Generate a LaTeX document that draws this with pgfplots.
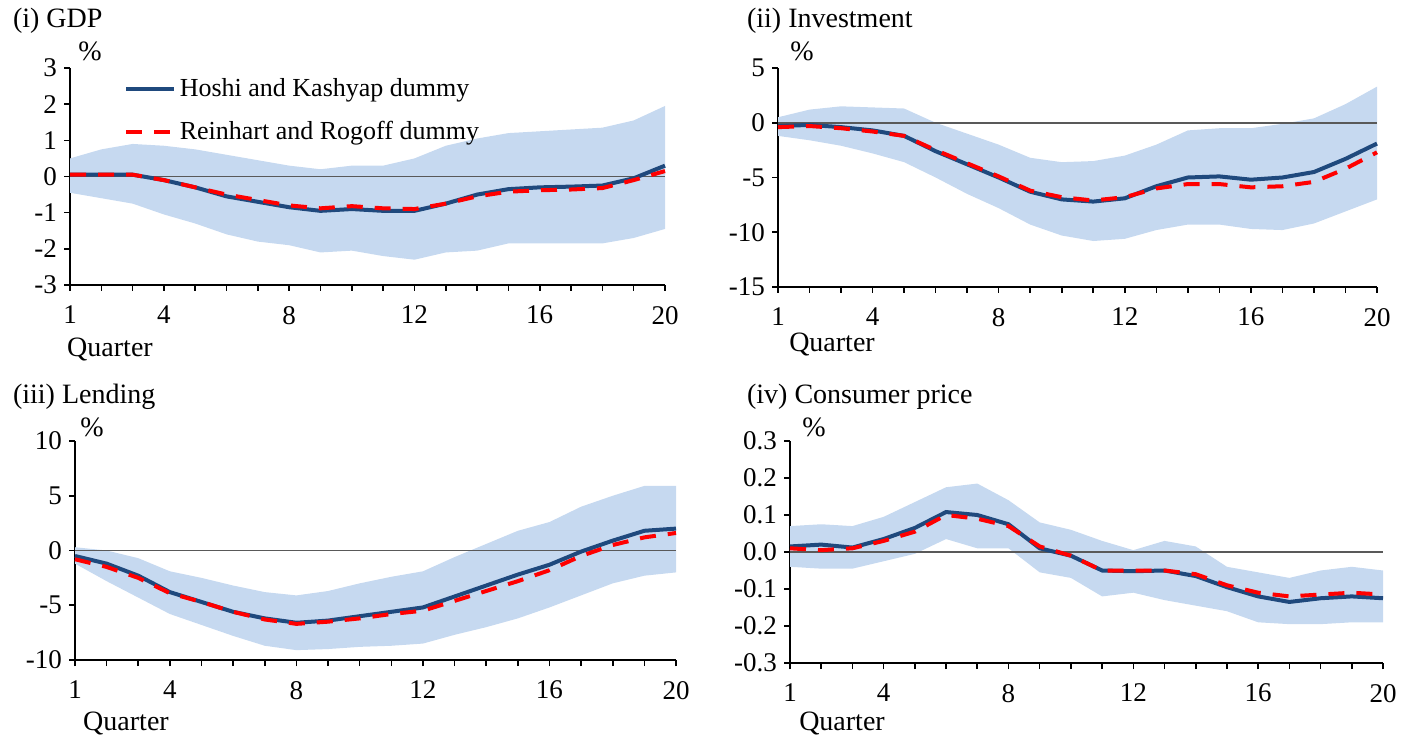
\documentclass[border=0pt]{standalone}
\usepackage{pgfplots}
\pgfplotsset{compat=1.18}
\usepgfplotslibrary{fillbetween}
\usepackage{fontspec}
\setmainfont{Liberation Serif}
\definecolor{band}{RGB}{198,217,240}
\definecolor{hkblue}{RGB}{31,73,125}
\pgfplotsset{
 panel/.style={scale only axis, xmin=1, xmax=20, axis x line*=bottom, axis y line*=left,
  xtick={1,4,8,12,16,20}, minor xtick={1,...,20}, tick align=outside,
  major tick length=3pt, minor tick length=3pt, tick style={black, thick}, axis line style={thick},
  /pgf/number format/assume math mode=true, ticklabel style={font=\fontsize{13.5}{13.5}\selectfont},
  xticklabel style={yshift=-4pt},
  clip=false, anchor=south west},
 hkline/.style={hkblue, line width=2pt, no marks},
 rrline/.style={red, line width=2pt, dash pattern=on 8pt off 6pt, no marks},
 zl/.style={black!65, line width=0.9pt, forget plot},
}
\newcommand{\ttl}[1]{{\fontsize{14}{14}\selectfont #1}}
\begin{document}
\begin{tikzpicture}
\path (0pt,0pt) rectangle (706.5pt,367.5pt);
% (i) GDP
\begin{axis}[panel, at={(35pt,225pt)}, width=297.5pt, height=108.5pt, ymin=-3, ymax=3, ytick={-3,...,3},
  legend style={draw=none, fill=none, at={(0.08,0.99)}, anchor=north west, font=\fontsize{13}{13}\selectfont, row sep=7pt},
  legend image post style={xscale=1.4}, legend cell align=left]
\addplot[name path=u, draw=none, forget plot] coordinates {(1,0.5)(2,0.75)(3,0.9)(4,0.85)(5,0.75)(6,0.6)(7,0.45)(8,0.3)(9,0.2)(10,0.3)(11,0.3)(12,0.5)(13,0.85)(14,1.05)(15,1.2)(16,1.25)(17,1.3)(18,1.35)(19,1.55)(20,1.95)};
\addplot[name path=l, draw=none, forget plot] coordinates {(1,-0.45)(2,-0.6)(3,-0.75)(4,-1.05)(5,-1.3)(6,-1.6)(7,-1.8)(8,-1.9)(9,-2.1)(10,-2.05)(11,-2.2)(12,-2.3)(13,-2.1)(14,-2.05)(15,-1.85)(16,-1.85)(17,-1.85)(18,-1.85)(19,-1.7)(20,-1.45)};
\addplot[band, forget plot] fill between[of=u and l];
\addplot[zl] coordinates {(1,0)(20,0)};
\addplot[hkline] coordinates {(1,0.05)(2,0.05)(3,0.05)(4,-0.1)(5,-0.3)(6,-0.55)(7,-0.7)(8,-0.85)(9,-0.95)(10,-0.9)(11,-0.95)(12,-0.95)(13,-0.75)(14,-0.5)(15,-0.35)(16,-0.3)(17,-0.28)(18,-0.25)(19,-0.05)(20,0.3)};
\addlegendentry{Hoshi and Kashyap dummy}
\addplot[rrline] coordinates {(1,0.05)(2,0.05)(3,0.05)(4,-0.1)(5,-0.3)(6,-0.5)(7,-0.65)(8,-0.8)(9,-0.88)(10,-0.82)(11,-0.88)(12,-0.9)(13,-0.75)(14,-0.55)(15,-0.42)(16,-0.38)(17,-0.36)(18,-0.32)(19,-0.1)(20,0.15)};
\addlegendentry{Reinhart and Rogoff dummy}
\end{axis}
\node[anchor=west] at (3pt,357pt) {\ttl{(i) GDP}};
\node at (45pt,342pt) {\ttl{\%}};
\node at (55pt,193pt) {\ttl{Quarter}};
% (ii) Investment
\begin{axis}[panel, at={(389pt,224pt)}, width=299.5pt, height=109.5pt, ymin=-15, ymax=5, ytick={-15,-10,...,5}]
\addplot[name path=u, draw=none] coordinates {(1,0.5)(2,1.2)(3,1.5)(4,1.4)(5,1.3)(6,0)(7,-1)(8,-2)(9,-3.2)(10,-3.6)(11,-3.5)(12,-3)(13,-2)(14,-0.7)(15,-0.5)(16,-0.5)(17,-0.1)(18,0.4)(19,1.7)(20,3.3)};
\addplot[name path=l, draw=none] coordinates {(1,-1.2)(2,-1.6)(3,-2.1)(4,-2.8)(5,-3.6)(6,-5)(7,-6.5)(8,-7.8)(9,-9.3)(10,-10.3)(11,-10.8)(12,-10.6)(13,-9.8)(14,-9.3)(15,-9.3)(16,-9.7)(17,-9.8)(18,-9.2)(19,-8.1)(20,-7)};
\addplot[band] fill between[of=u and l];
\addplot[zl] coordinates {(1,0)(20,0)};
\addplot[hkline] coordinates {(1,-0.3)(2,-0.2)(3,-0.4)(4,-0.7)(5,-1.2)(6,-2.6)(7,-3.8)(8,-5)(9,-6.3)(10,-7)(11,-7.2)(12,-6.9)(13,-5.8)(14,-5)(15,-4.9)(16,-5.2)(17,-5)(18,-4.5)(19,-3.3)(20,-1.9)};
\addplot[rrline] coordinates {(1,-0.4)(2,-0.3)(3,-0.5)(4,-0.8)(5,-1.2)(6,-2.5)(7,-3.7)(8,-4.9)(9,-6.2)(10,-6.8)(11,-7.1)(12,-6.8)(13,-6)(14,-5.6)(15,-5.6)(16,-5.9)(17,-5.8)(18,-5.4)(19,-4.2)(20,-2.7)};
\end{axis}
\node[anchor=west] at (370pt,357pt) {\ttl{(ii) Investment}};
\node at (401pt,342pt) {\ttl{\%}};
\node at (416pt,195pt) {\ttl{Quarter}};
% (iii) Lending
\begin{axis}[panel, at={(37.5pt,37.5pt)}, width=300.5pt, height=109.5pt, ymin=-10, ymax=10, ytick={-10,-5,...,10}]
\addplot[name path=u, draw=none] coordinates {(1,0.3)(2,0)(3,-0.7)(4,-1.9)(5,-2.5)(6,-3.2)(7,-3.8)(8,-4.1)(9,-3.7)(10,-3)(11,-2.4)(12,-1.9)(13,-0.6)(14,0.6)(15,1.8)(16,2.6)(17,4)(18,5)(19,5.9)(20,5.9)};
\addplot[name path=l, draw=none] coordinates {(1,-1.2)(2,-2.8)(3,-4.3)(4,-5.8)(5,-6.8)(6,-7.8)(7,-8.7)(8,-9.1)(9,-9)(10,-8.8)(11,-8.7)(12,-8.5)(13,-7.7)(14,-7)(15,-6.2)(16,-5.2)(17,-4.1)(18,-3)(19,-2.3)(20,-2)};
\addplot[band] fill between[of=u and l];
\addplot[zl] coordinates {(1,0)(20,0)};
\addplot[hkline] coordinates {(1,-0.5)(2,-1.2)(3,-2.3)(4,-3.8)(5,-4.7)(6,-5.6)(7,-6.2)(8,-6.6)(9,-6.4)(10,-6)(11,-5.6)(12,-5.2)(13,-4.2)(14,-3.2)(15,-2.2)(16,-1.3)(17,-0.1)(18,0.9)(19,1.8)(20,2)};
\addplot[rrline] coordinates {(1,-0.8)(2,-1.5)(3,-2.5)(4,-3.9)(5,-4.7)(6,-5.6)(7,-6.3)(8,-6.7)(9,-6.5)(10,-6.2)(11,-5.8)(12,-5.5)(13,-4.6)(14,-3.7)(15,-2.8)(16,-1.8)(17,-0.5)(18,0.5)(19,1.2)(20,1.6)};
\end{axis}
\node[anchor=west] at (3pt,169pt) {\ttl{(iii) Lending}};
\node at (46pt,154pt) {\ttl{\%}};
\node at (63pt,6pt) {\ttl{Quarter}};
% (iv) Consumer price
\begin{axis}[panel, at={(395pt,36pt)}, width=296.5pt, height=111pt, ymin=-0.3, ymax=0.3, ytick={-0.3,-0.2,...,0.31},
  yticklabel style={/pgf/number format/fixed, /pgf/number format/fixed zerofill, /pgf/number format/precision=1}]
\addplot[name path=u, draw=none] coordinates {(1,0.07)(2,0.075)(3,0.07)(4,0.095)(5,0.135)(6,0.175)(7,0.185)(8,0.14)(9,0.08)(10,0.06)(11,0.03)(12,0.005)(13,0.03)(14,0.015)(15,-0.04)(16,-0.055)(17,-0.07)(18,-0.05)(19,-0.04)(20,-0.05)};
\addplot[name path=l, draw=none] coordinates {(1,-0.04)(2,-0.045)(3,-0.045)(4,-0.025)(5,-0.005)(6,0.035)(7,0.01)(8,0.01)(9,-0.055)(10,-0.07)(11,-0.12)(12,-0.11)(13,-0.13)(14,-0.145)(15,-0.16)(16,-0.19)(17,-0.195)(18,-0.195)(19,-0.19)(20,-0.19)};
\addplot[band] fill between[of=u and l];
\addplot[zl] coordinates {(1,0)(20,0)};
\addplot[hkline] coordinates {(1,0.015)(2,0.02)(3,0.012)(4,0.035)(5,0.065)(6,0.108)(7,0.1)(8,0.075)(9,0.01)(10,-0.01)(11,-0.05)(12,-0.052)(13,-0.05)(14,-0.065)(15,-0.095)(16,-0.12)(17,-0.135)(18,-0.125)(19,-0.12)(20,-0.125)};
\addplot[rrline] coordinates {(1,0.01)(2,0.005)(3,0.01)(4,0.03)(5,0.055)(6,0.1)(7,0.09)(8,0.07)(9,0.015)(10,-0.01)(11,-0.05)(12,-0.05)(13,-0.05)(14,-0.06)(15,-0.09)(16,-0.11)(17,-0.12)(18,-0.115)(19,-0.11)(20,-0.115)};
\end{axis}
\node[anchor=west] at (370pt,169pt) {\ttl{(iv) Consumer price}};
\node at (407pt,154pt) {\ttl{\%}};
\node at (421pt,6pt) {\ttl{Quarter}};
\end{tikzpicture}
\end{document}
